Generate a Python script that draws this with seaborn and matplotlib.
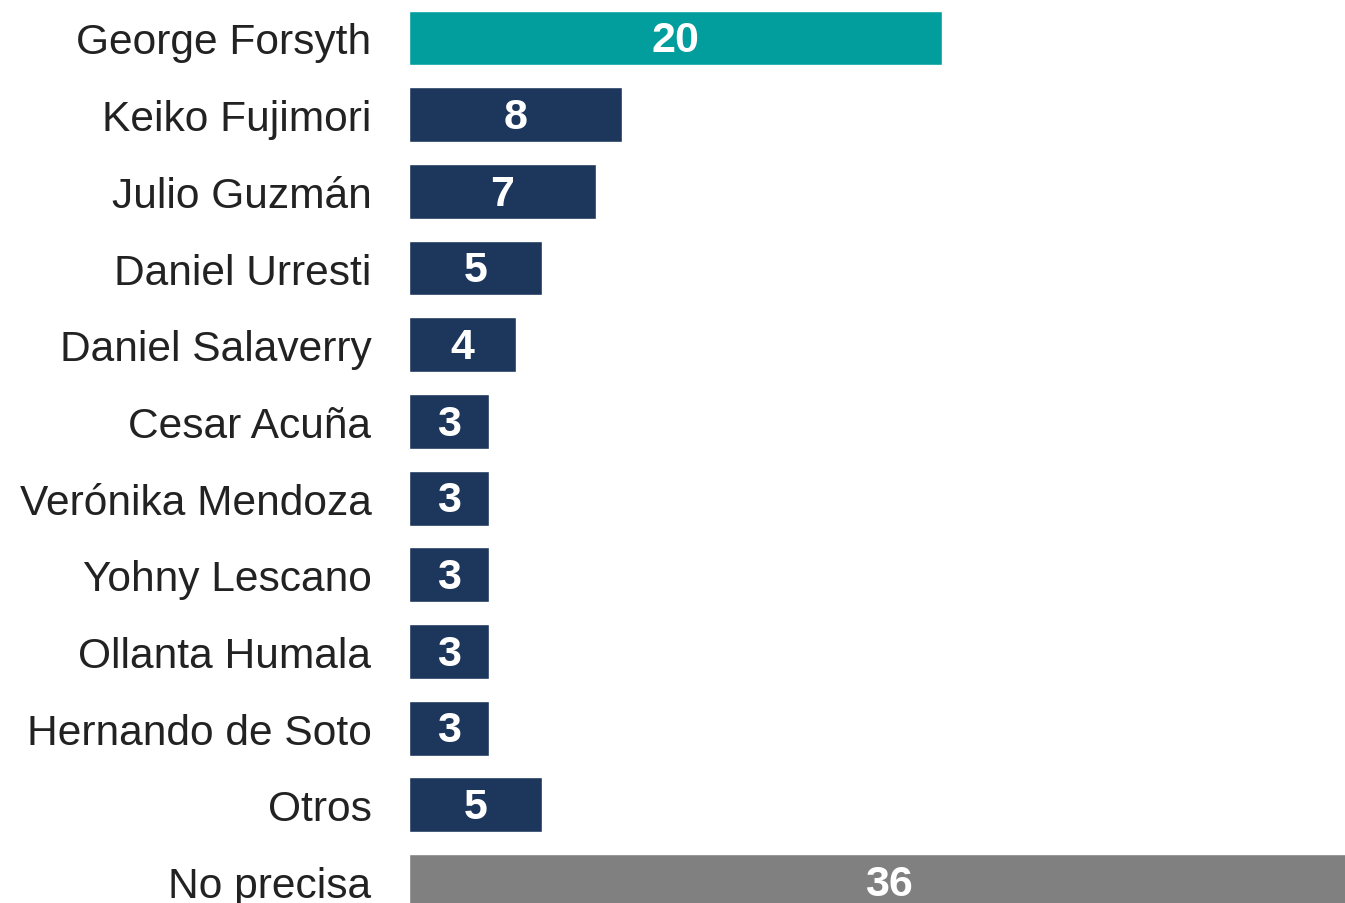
import matplotlib
matplotlib.use("Agg")
import matplotlib.pyplot as plt
import seaborn as sns
import pandas as pd
from matplotlib import font_manager

candidates = ["Liberation Sans", "Arial", "DejaVu Sans"]
names = {f.name for f in font_manager.fontManager.ttflist}
label_font = next(n for n in candidates if n in names)
narrow = "Liberation Sans Narrow" if "Liberation Sans Narrow" in names else label_font

categories = ["George Forsyth", "Keiko Fujimori", "Julio Guzmán", "Daniel Urresti",
              "Daniel Salaverry", "Cesar Acuña", "Verónika Mendoza", "Yohny Lescano",
              "Ollanta Humala", "Hernando de Soto", "Otros", "No precisa"]
values = [20, 8, 7, 5, 4, 3, 3, 3, 3, 3, 5, 36]
groups = ["lead", "other", "other", "other", "other", "other", "other", "other",
          "other", "other", "other", "none"]
palette = {"lead": "#029E9D", "other": "#1C365C", "none": "#808080"}

df = pd.DataFrame({"cat": categories, "val": values, "grp": groups})

sns.set_theme(style="white")
plt.rcParams["font.family"] = [label_font, "DejaVu Sans"]

fig = plt.figure(figsize=(13.45, 9.04), dpi=100)
ax = fig.add_axes([409 / 1345, 0, (1345 - 409) / 1345, 1])

sns.barplot(data=df, y="cat", x="val", hue="grp", palette=palette, dodge=False,
            orient="h", width=0.715, legend=False, ax=ax, saturation=1)

ax.set_xlim(0, 35.12)
ax.set_ylim(11.28, -0.508)
ax.set_xlabel("")
ax.set_ylabel("")
ax.set_xticks([])
ax.tick_params(axis="y", length=0, pad=27, labelsize=30.6, labelcolor="#222222")
for s in ax.spines.values():
    s.set_visible(False)

for i, v in enumerate(values):
    ax.text(v / 2, i + 0.03, str(v), ha="center", va="center", color="white",
            fontsize=31, fontweight="bold", family=[narrow, "DejaVu Sans"])

fig.savefig("out.png", dpi=100)
